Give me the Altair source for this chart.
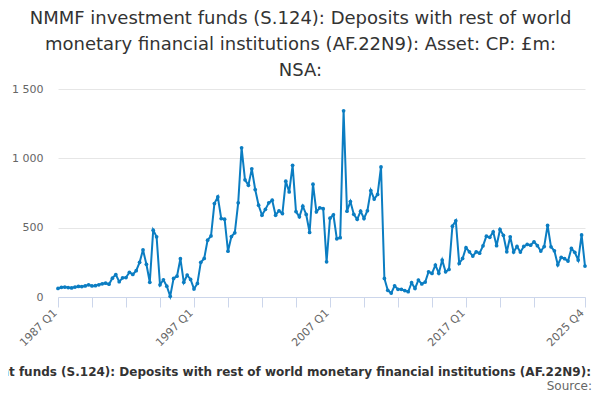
import altair as alt
import pandas as pd

years = list(range(1987, 2026))
quarters = [f"{y} Q{q}" for y in years for q in (1, 2, 3, 4)]

values = [
    62, 70, 72, 68, 65, 72, 76, 75, 80, 88,
    80, 82, 88, 95, 100, 92, 136, 162, 110, 138,
    140, 178, 163, 190, 250, 340, 236, 106, 482, 434,
    88, 124, 78, 5, 134, 150, 276, 106, 158, 127,
    58, 98, 250, 278, 410, 440, 674, 722, 566, 561,
    330, 436, 463, 679, 1076, 845, 806, 924, 775, 662,
    590, 632, 679, 698, 590, 622, 602, 835, 758, 950,
    616, 578, 655, 595, 466, 814, 614, 643, 637, 254,
    568, 593, 420, 428, 1343, 619, 688, 596, 560, 619,
    566, 622, 768, 706, 740, 938, 134, 48, 28, 81,
    55, 55, 46, 38, 103, 62, 122, 94, 108, 182,
    170, 230, 172, 266, 182, 199, 511, 549, 242, 278,
    356, 326, 295, 326, 316, 369, 439, 430, 470, 370,
    487, 445, 326, 434, 324, 365, 324, 365, 379, 374,
    398, 370, 331, 364, 516, 362, 333, 232, 286, 276,
    259, 350, 322, 266, 448, 223,
]

tick_quarters = quarters[0:141:10] + [quarters[-1]]
label_quarters = ["1987 Q1", "1997 Q1", "2007 Q1", "2017 Q1", "2025 Q4"]
y_ticks = [0, 500, 1000, 1500]

series_name = ("NMMF investment funds (S.124): Deposits with rest of world monetary "
               "financial institutions (AF.22N9): Asset: CP: £m: NSA:")
title_lines = [
    "NMMF investment funds (S.124): Deposits with rest of world",
    "monetary financial institutions (AF.22N9): Asset: CP: £m:",
    "NSA:",
]

df = pd.DataFrame({"quarter": quarters, "value": values})
src = pd.DataFrame({"t": ["Source:"]})

BLUE = "#0b7dc2"
FONT = "DejaVu Sans"

label_list = "[" + ",".join(f"'{q}'" for q in label_quarters) + "]"

base = alt.Chart(df).encode(
    x=alt.X(
        "quarter:O",
        sort=quarters,
        scale=alt.Scale(padding=0),
        axis=alt.Axis(
            values=tick_quarters,
            labelExpr=f"indexof({label_list}, datum.value) >= 0 ? datum.value : ''",
            labelAngle=-45,
            labelAlign="right",
            labelBaseline="middle",
            labelOverlap=False,
            labelFontSize=11,
            labelColor="#666666",
            labelFont=FONT,
            labelPadding=4,
            labelOffset=-3,
            domainColor="#ccd6eb",
            tickColor="#ccd6eb",
            tickSize=10,
            grid=False,
            title=series_name,
            titleFont=FONT,
            titleFontSize=12,
            titleFontWeight="bold",
            titleColor="#333333",
            titleX=253,
            titleY=74,
            titleBaseline="middle",
        ),
    ),
    y=alt.Y(
        "value:Q",
        scale=alt.Scale(domain=[0, 1500], nice=False),
        axis=alt.Axis(
            values=y_ticks,
            labelExpr="replace(format(datum.value, ','), ',', ' ')",
            labelFontSize=11,
            labelColor="#666666",
            labelFont=FONT,
            labelPadding=15,
            domain=False,
            ticks=False,
            grid=True,
            gridColor="#e6e6e6",
            title=None,
        ),
    ),
)

line = base.mark_line(color=BLUE, strokeWidth=2)
points = base.mark_circle(color=BLUE, size=14, opacity=1)

source = alt.Chart(src).mark_text(
    align="right", baseline="middle", fontSize=12, font=FONT, color="#666666"
).encode(text="t:N", x=alt.value(534), y=alt.value(297))

chart = alt.layer(line, points, source).properties(
    width=527,
    height=208,
    autosize=alt.AutoSizeParams(type="none"),
    padding={"left": 50, "top": 81, "right": 7, "bottom": 95},
    title=alt.TitleParams(
        text=title_lines,
        font=FONT,
        fontSize=18,
        fontWeight="normal",
        color="#333333",
        anchor="middle",
        dx=-21,
        dy=24,
        baseline="bottom",
        offset=9,
        lineHeight=26,
    ),
).configure_view(stroke=None)

chart.save("out.html", embed_options={"renderer": "svg", "actions": False})
